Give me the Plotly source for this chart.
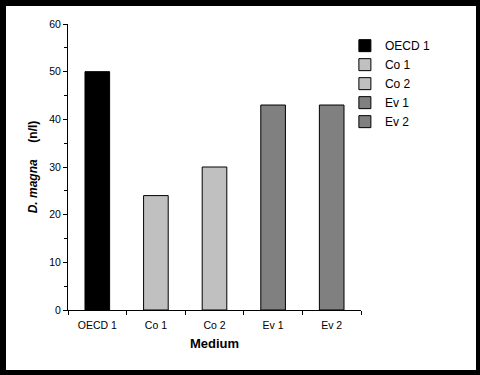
import plotly.graph_objects as go

categories = ["OECD 1", "Co 1", "Co 2", "Ev 1", "Ev 2"]
values = [50, 24, 30, 43, 43]
colors = ["#000000", "#C0C0C0", "#C0C0C0", "#808080", "#808080"]

FONT = "Liberation Sans, Arial, sans-serif"

fig = go.Figure()
for cat, val, col in zip(categories, values, colors):
    fig.add_trace(go.Bar(
        x=[cat], y=[val], name=cat, width=0.42,
        marker=dict(color=col, line=dict(color="#000000", width=1)),
    ))

fig.update_layout(
    width=480, height=375,
    margin=dict(l=68, r=119, t=24, b=65),
    paper_bgcolor="#000000",
    plot_bgcolor="#FFFFFF",
    barmode="overlay",
    font=dict(family=FONT, size=11, color="#000000"),
    showlegend=True,
    legend=dict(x=0.945, y=0.975, xanchor="left", yanchor="top",
                font=dict(size=12, family=FONT), bgcolor="rgba(0,0,0,0)",
                itemwidth=30, tracegroupgap=0),
    shapes=[dict(type="rect", xref="paper", yref="paper",
                 x0=-0.2116, x1=1.3925, y0=-0.2098, y1=1.0629,
                 fillcolor="#FFFFFF", line=dict(width=0), layer="below")],
)
fig.update_xaxes(
    categoryorder="array", categoryarray=categories,
    showline=True, linecolor="#000000", linewidth=1,
    ticks="outside", tickson="boundaries", ticklen=4, tickcolor="#000000",
    showgrid=False, tickfont=dict(size=10.5), ticklabelstandoff=5,
    title=dict(text="<b>Medium</b>", font=dict(size=13), standoff=9),
)
fig.update_yaxes(
    range=[0, 60], dtick=10, showline=True, linecolor="#000000", linewidth=1,
    ticks="outside", ticklen=4, tickcolor="#000000", showgrid=False, zeroline=False,
    tickfont=dict(size=10.5),
    minor=dict(dtick=5, ticks="outside", ticklen=3, tickcolor="#000000", showgrid=False),
    title=dict(text="<b><i>D. magna</i>&nbsp;&nbsp;&nbsp;&nbsp;&nbsp;(n/l)</b>",
               font=dict(size=12), standoff=9),
)

fig.write_html("out.html", config={"displayModeBar": False},
               post_script="document.body.style.margin='0';document.body.style.padding='0';")
